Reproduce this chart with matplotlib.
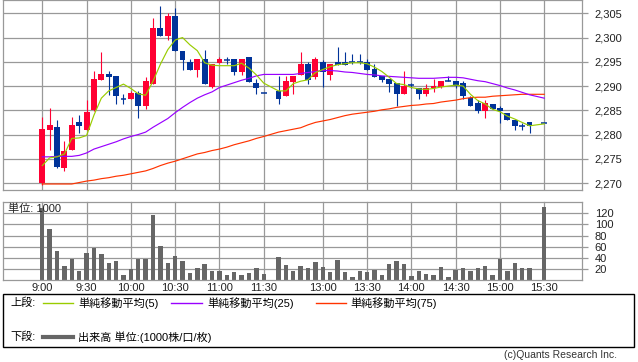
import numpy as np
import matplotlib
matplotlib.use("Agg")
import matplotlib.pyplot as plt
from matplotlib.lines import Line2D
from matplotlib.patches import Rectangle
from matplotlib.ticker import FuncFormatter

plt.rcParams['font.family'] = ['Liberation Sans', 'Noto Sans CJK JP', 'DejaVu Sans']

nan = np.nan

# 5-minute bars, index 0 = 9:00 ... 68 = 15:30 (lunch gap at 31, closing auction gap at 67)
tick_pos = [0, 6, 12, 18, 24, 30, 38, 44, 50, 56, 62, 68]
tick_labels = ['9:00', '9:30', '10:00', '10:30', '11:00', '11:30',
               '13:00', '13:30', '14:00', '14:30', '15:00', '15:30']

opens = [2270, 2281, 2281.5, 2273, 2276.8, 2282.6, 2280.9, 2285.1, 2291.2, 2292.5,
         2292.1, 2287.4, 2287.4, 2288.6, 2285.9, 2290.5, 2302, 2300.3, 2304.4, 2297.3,
         2295, 2293.4, 2295.6, 2289.9, 2294.8, 2295.4, 2295.6, 2293, 2296, 2290.7,
         2288.5, nan, 2289, 2288, 2290.9, 2292.3, 2294.5, 2291.9, 2295, 2292.3,
         2295, 2295, 2295, 2295, 2295, 2293.5, 2292.1, 2291.5, 2290.6, 2288.4,
         2290.2, 2289.7, 2288.4, 2289.5, 2289.9, 2291.1, 2291.1, 2290.6, 2287.5, 2286.5,
         2284.9, 2286.4, 2285.5, 2284.5, 2283, 2281.8, 2282.6, nan, 2282.4]
highs = [2283.6, 2285.5, 2283.1, 2278.7, 2283.6, 2284, 2287.2, 2293.2, 2297, 2293.1,
         2292.1, 2288.3, 2289, 2289, 2291.9, 2304.1, 2306.5, 2305, 2306.2, 2297.3,
         2295.6, 2295.6, 2297.4, 2294.5, 2296, 2296, 2295.6, 2295.6, 2296, 2291.5,
         2288.5, nan, 2292, 2292, 2292.1, 2297, 2295, 2296, 2295.4, 2294.5,
         2298.1, 2297, 2296.6, 2296.6, 2295.6, 2294.5, 2292.1, 2291.5, 2290.6, 2293.2,
         2290.7, 2289.7, 2290.5, 2291.5, 2291.1, 2292, 2291.1, 2291.1, 2288, 2287.1,
         2287.1, 2286.4, 2285.9, 2284.5, 2283, 2282.4, 2282.6, nan, 2282.4]
lows = [2269.6, 2276.8, 2273, 2272.5, 2276.8, 2280.4, 2280.9, 2284.9, 2291.2, 2288.2,
        2286.4, 2286.4, 2287.4, 2283.5, 2285.3, 2290.5, 2300.3, 2299.4, 2297.3, 2293.3,
        2293.4, 2291.9, 2290.5, 2289.5, 2294.8, 2294.5, 2292.3, 2292.3, 2290.9, 2288.4,
        2288.5, nan, 2286.4, 2288, 2288.4, 2292.3, 2290.5, 2291.5, 2289.9, 2291.3,
        2294.3, 2294.3, 2294.5, 2294.5, 2293.4, 2291.9, 2290.9, 2288.8, 2285.9, 2288.4,
        2289.5, 2287.4, 2288, 2288.8, 2289.5, 2291, 2289.5, 2287.4, 2285.9, 2284.5,
        2283.5, 2285.3, 2282.4, 2282.9, 2280.9, 2280.9, 2280.4, nan, 2282.4]
closes = [2281.1, 2282, 2273.4, 2276.6, 2282, 2281.8, 2284.6, 2291.5, 2292.5, 2291.9,
          2288, 2287.4, 2288.6, 2285.9, 2291.1, 2302, 2300.3, 2304.4, 2297.3, 2295.4,
          2293.4, 2295.6, 2290.5, 2294.5, 2295.6, 2295.4, 2293, 2295.6, 2290.9, 2289.5,
          2288.5, nan, 2287.4, 2291.1, 2292.1, 2294.5, 2291.3, 2295.6, 2293, 2294.5,
          2294.3, 2294.3, 2295, 2295, 2293.4, 2291.9, 2291.3, 2290.5, 2288.4, 2290,
          2290.2, 2288.4, 2289.7, 2290.1, 2291.1, 2291.1, 2290.1, 2288, 2285.9, 2284.9,
          2286.5, 2285.3, 2284.9, 2282.9, 2281.8, 2281.8, 2281.8, nan, 2282.4]

ma5 = [2273.6, 2275.2, 2275.4, 2276, 2279.2, 2279.3, 2279.8, 2284, 2287.5, 2289,
       2289.7, 2290.4, 2289.5, 2288.4, 2288.1, 2291, 2294.5, 2297.5, 2299.5, 2300,
       2298.5, 2297.3, 2294.8, 2294.3, 2294.2, 2294.2, 2294.2, 2294.7, 2293.7, 2292.3,
       2290.6, nan, 2289, 2289, 2290.5, 2291, 2291.3, 2292.8, 2293.4, 2294,
       2294.4, 2294.6, 2294.8, 2294.8, 2294.6, 2293.9, 2293, 2291.8, 2290.5, 2290.3,
       2289.7, 2289.4, 2289.3, 2289.5, 2289.8, 2290, 2290.2, 2290, 2288.3, 2287,
       2286.3, 2285.2, 2284.7, 2283.8, 2283.2, 2282.5, 2281.8, nan, 2282.2]
ma25 = [2275.4, 2275.4, 2275.5, 2275.5, 2275.5, 2275.7, 2276.2, 2277, 2277.5, 2278,
        2278.5, 2279.1, 2279.6, 2280, 2280.5, 2281.5, 2282.4, 2283.3, 2284.5, 2285.6,
        2286.6, 2287.5, 2288.2, 2288.8, 2289.7, 2290.2, 2290.7, 2291.2, 2291.6, 2292.1,
        2292.4, nan, 2292.4, 2292.4, 2292.4, 2292.6, 2292.8, 2293, 2293.2, 2293.2,
        2293.1, 2292.9, 2292.8, 2292.6, 2292.4, 2292.3, 2292.1, 2292, 2291.9, 2291.8,
        2291.7, 2291.6, 2291.6, 2291.6, 2291.7, 2291.8, 2291.8, 2291.7, 2291.4, 2291.1,
        2290.9, 2290.5, 2290.1, 2289.6, 2289.2, 2288.7, 2288.2, nan, 2287.5]
ma75 = [2269.8, 2269.8, 2269.8, 2269.8, 2269.8, 2270.1, 2270.4, 2270.6, 2270.9, 2271.1,
        2271.4, 2271.6, 2271.9, 2272.2, 2272.5, 2273, 2273.6, 2274.1, 2274.5, 2275,
        2275.5, 2276, 2276.3, 2276.7, 2277, 2277.4, 2277.9, 2278.3, 2278.7, 2279.2,
        2279.6, nan, 2280.5, 2280.8, 2281.1, 2281.4, 2282, 2282.5, 2282.8, 2283.1,
        2283.5, 2283.9, 2284.2, 2284.4, 2284.6, 2284.8, 2285.1, 2285.3, 2285.6, 2285.8,
        2286, 2286.1, 2286.3, 2286.4, 2286.7, 2286.9, 2287.1, 2287.4, 2287.6, 2287.7,
        2287.7, 2287.9, 2288, 2288.1, 2288.2, 2288.3, 2288.3, nan, 2288.3]

volume = [130, 92, 53, 26, 38, 17, 48, 58, 47, 31,
          35, 10, 20, 38, 38, 116, 62, 31, 44, 35,
          13, 22, 29, 17, 17, 10, 15, 10, 13, 22,
          11, nan, 42, 28, 17, 26, 22, 33, 24, 15,
          37, 15, 6, 17, 15, 19, 10, 29, 35, 29,
          8, 17, 11, 10, 24, 6, 19, 22, 17, 22,
          26, 10, 38, 17, 31, 22, 22, nan, 132]

RED = '#ff0033'
BLUE = '#003399'
GRID = '#999999'

W, H = 638, 362
def fx(px):
    return px / W
def fy(py):
    return 1 - py / H

fig = plt.figure(figsize=(W / 100, H / 100), dpi=100)
ax = fig.add_axes([fx(3.3), fy(190), (582.3 - 3.3) / W, 190 / H])
axv = fig.add_axes([fx(3.3), fy(280.3), (582.3 - 3.3) / W, (280.3 - 201.5) / H])

x = np.arange(len(closes))

# candles
for i in x:
    o, h, l, c = opens[i], highs[i], lows[i], closes[i]
    if np.isnan(o):
        continue
    col = RED if c > o else BLUE
    ax.vlines(i, l, h, color=col, lw=0.8, zorder=2)
    if abs(c - o) < 0.2:
        ax.hlines(o, i - 0.4, i + 0.4, color=col, lw=1.1, zorder=2)
    else:
        ax.bar(i, abs(c - o), bottom=min(o, c), width=0.8, color=col, zorder=2)

# moving averages
for vals, col in [(ma75, '#ff3300'), (ma25, '#9900ff'), (ma5, '#99cc00')]:
    v = np.array(vals)
    ok = ~np.isnan(v)
    ax.plot(x[ok], v[ok], color=col, lw=0.85, zorder=3)

ax.set_xlim(-5.28, 73.15)
ax.set_ylim(2268.56, 2307.75)
ax.set_yticks(range(2270, 2306, 5))
ax.yaxis.set_major_formatter(FuncFormatter(lambda v, p: f'{v:,.0f}'))
ax.set_xticks(tick_pos)
ax.tick_params(axis='x', labelbottom=False, length=0)

# volume
vol = np.array(volume)
ok = ~np.isnan(vol)
axv.bar(x[ok], vol[ok], width=0.6, color='#666666', zorder=2)
axv.set_xlim(-5.28, 73.15)
axv.set_ylim(0, 141)
axv.set_yticks([20, 40, 60, 80, 100, 120])
axv.set_xticks(tick_pos)
axv.set_xticklabels(tick_labels)
axv.tick_params(axis='x', length=0, pad=2)

for a in (ax, axv):
    a.grid(True, color=GRID, lw=0.9, zorder=0)
    a.set_axisbelow(True)
    a.yaxis.tick_right()
    a.tick_params(axis='y', length=4, width=0.9, color=GRID, pad=5)
    a.tick_params(labelsize=8, labelcolor='#222222')
    for s in a.spines.values():
        s.set_color(GRID)
        s.set_linewidth(0.9)

fig.text(fx(8), fy(209), '単位: 1000', fontsize=8, va='center', ha='left', color='#222222')

# legend box
fig.add_artist(Rectangle((fx(3.3), fy(346.5)), (634 - 3.3) / W, (346.5 - 293.5) / H,
                         transform=fig.transFigure, fill=False, edgecolor='black', lw=1))
ly1, ly2 = 303, 337
fig.text(fx(10), fy(ly1), '上段:', fontsize=8, va='center')
items = [(43, 73, 78, '#99cc00', '単純移動平均(5)'),
         (171, 202, 207, '#9900ff', '単純移動平均(25)'),
         (316, 346, 350, '#ff3300', '単純移動平均(75)')]
for x0, x1, tx, col, lab in items:
    fig.add_artist(Line2D([fx(x0), fx(x1)], [fy(ly1), fy(ly1)], transform=fig.transFigure,
                          color=col, lw=1.0))
    fig.text(fx(tx), fy(ly1), lab, fontsize=8, va='center')
fig.text(fx(10), fy(ly2), '下段:', fontsize=8, va='center')
fig.add_artist(Line2D([fx(43), fx(73)], [fy(ly2), fy(ly2)], transform=fig.transFigure,
                      color='#666666', lw=3.0))
fig.text(fx(78), fy(ly2), '出来高 単位:(1000株/口/枚)', fontsize=8, va='center')

fig.text(fx(617), fy(355), '(c)Quants Research Inc.', fontsize=7.5, ha='right', va='center',
         color='#333333')

fig.savefig('out.png', dpi=100)
